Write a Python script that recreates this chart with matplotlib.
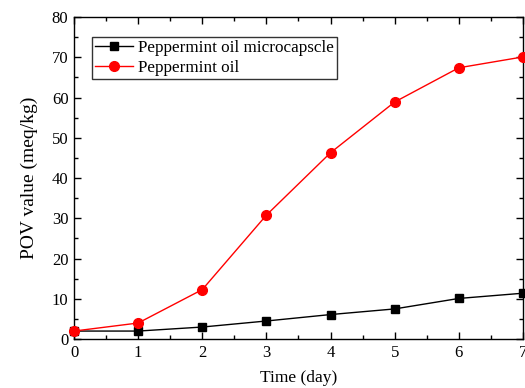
import matplotlib.pyplot as plt
from matplotlib.ticker import MultipleLocator

plt.rcParams['font.family'] = ['Liberation Serif', 'DejaVu Serif']

dias = [0, 1, 2, 3, 4, 5, 6, 7]
pov_microcapsula = [2.0, 2.0, 3.0, 4.5, 6.1, 7.5, 10.1, 11.4]
pov_oleo = [2.0, 4.0, 12.3, 30.8, 46.3, 58.9, 67.4, 70.1]

fig = plt.figure(figsize=(5.25, 3.88), dpi=100)
ax = fig.add_axes([0.141, 0.126, 0.855, 0.830])

ax.plot(dias, pov_microcapsula, color='black', marker='s', markersize=6,
        linewidth=1, label='Peppermint oil microcapscle', clip_on=False, zorder=3)
ax.plot(dias, pov_oleo, color='red', marker='o', markersize=7,
        linewidth=1, label='Peppermint oil', clip_on=False, zorder=3)

ax.set_xlim(0, 7)
ax.set_ylim(0, 80)
ax.xaxis.set_major_locator(MultipleLocator(1))
ax.xaxis.set_minor_locator(MultipleLocator(0.5))
ax.yaxis.set_major_locator(MultipleLocator(10))
ax.yaxis.set_minor_locator(MultipleLocator(5))
ax.tick_params(which='both', direction='in', top=True, right=True,
               labelsize=12, width=1, pad=4)
ax.tick_params(which='major', length=5)
ax.tick_params(which='minor', length=3)
for s in ax.spines.values():
    s.set_linewidth(1)

ax.set_xlabel('Time (day)', fontsize=12.5, labelpad=7)
ax.set_ylabel('POV value (meq/kg)', fontsize=14, labelpad=10)

leg = ax.legend(loc='upper left', bbox_to_anchor=(0.04, 0.938), fontsize=12.3,
                frameon=True, fancybox=False, edgecolor='black',
                handlelength=2.2, borderpad=0.2, labelspacing=0.2,
                handletextpad=0.3, borderaxespad=0)
leg.get_frame().set_linewidth(1)

fig.savefig('out.png', dpi=100)
